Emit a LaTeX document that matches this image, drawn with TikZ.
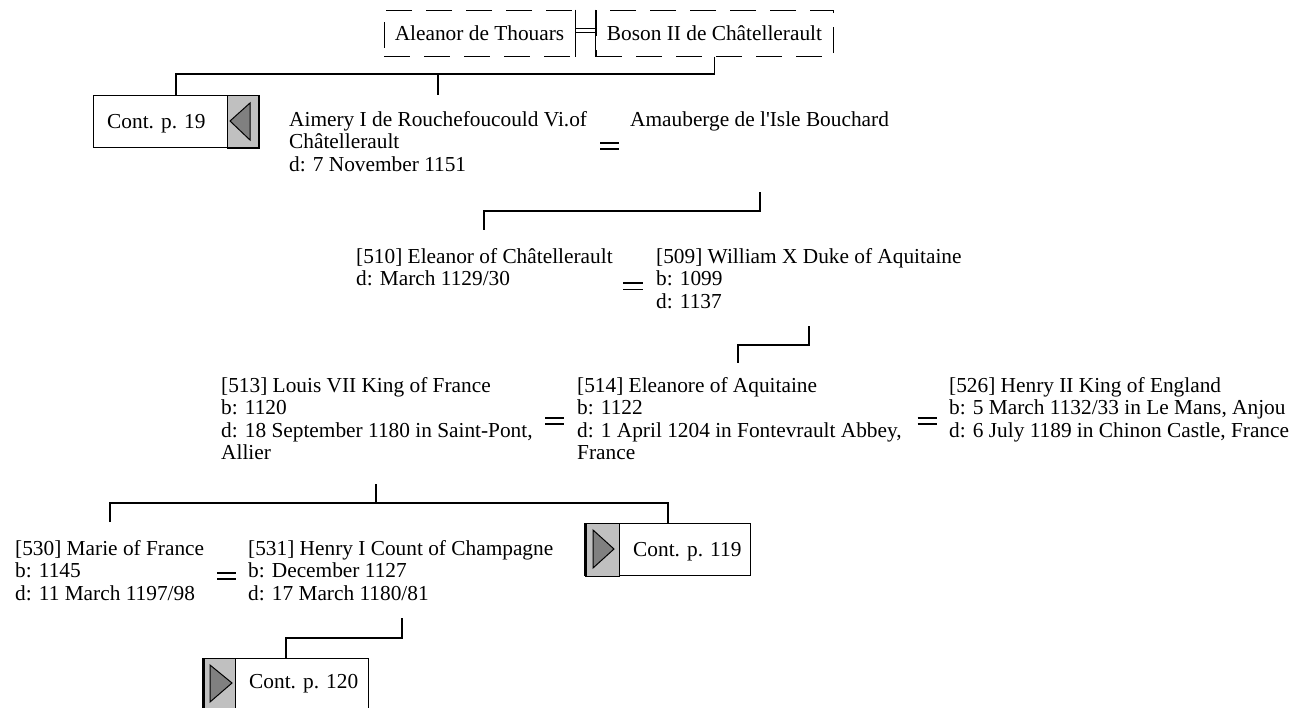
\documentclass[tikz,border=0pt]{standalone}
\usepackage{fontspec}
\setmainfont{Liberation Serif}[Ligatures=TeXOff]
\newcommand{\fs}{\fontsize{21.33}{22.5}\selectfont}
\newcommand{\ptext}[1]{\begin{tabular}[t]{@{}l@{}}#1\end{tabular}}
\definecolor{boxgrey}{HTML}{C0C0C0}
\definecolor{trigrey}{HTML}{808080}
\tikzset{
  conn/.style={line width=1.3pt},
  spouse/.style={line width=1.6pt},
  person/.style={anchor=base west, inner sep=0pt, font=\fs},
  dashbox/.style={draw, line width=1pt, dash pattern=on 26pt off 14pt, inner sep=0pt, font=\fs},
  contbox/.style={draw, fill=white, line width=1pt, anchor=north west, minimum width=165pt, minimum height=52pt, inner sep=0pt},
  greypart/.style={fill=boxgrey, draw, line width=1pt},
  arrowtri/.style={fill=trigrey, draw, line width=1pt, line join=miter},
  conttext/.style={anchor=base west, inner sep=0pt, font=\fs}
}
\begin{document}
\begin{tikzpicture}[x=1pt,y=-1pt]
\useasboundingbox (0,0) rectangle (1293,707);

% top couple (dashed boxes)
\node[dashbox, minimum width=191pt, minimum height=46pt] (aleanor) at (479.5,33) {Aleanor de Thouars};
\node[dashbox, minimum width=237pt, minimum height=46pt] (boson) at (714.5,33) {Boson II de Châtellerault};
\draw[line width=1pt] (aleanor.north east) -- (aleanor.south east);
\draw[line width=1pt] (boson.north west) -- (boson.south west);
\draw[line width=1pt] ([yshift=5pt]aleanor.east) -- ([yshift=5pt]boson.west);
\draw[line width=1pt] ([yshift=1pt]aleanor.east) -- ([yshift=1pt]boson.west);

% Cont. p. 19
\node[contbox] (cont19) at (93,95) {};
\draw[greypart] ([xshift=-32pt]cont19.north east) rectangle (cont19.south east);
\draw[line width=2.5pt] (cont19.north east) -- (cont19.south east);
\draw[line width=2pt] ([xshift=-32pt]cont19.south east) -- (cont19.south east);
\draw[arrowtri] (230,121) -- (250,103) -- (250,140) -- cycle;
\node[conttext] (cont19t) at (107,128) {Cont. p. 19};

% generation 1
\node[person] (aimery) at (289,126) {\ptext{Aimery I de Rouchefoucould Vi.of\\Châtellerault\\d: 7 November 1151}};
\node[person] (amauberge) at (630,126) {\ptext{Amauberge de l'Isle Bouchard}};
\coordinate (e1) at (609.5,146);
\draw[spouse] ([xshift=-9.5pt,yshift=3pt]e1) -- ([xshift=9.5pt,yshift=3pt]e1);
\draw[spouse] ([xshift=-9.5pt,yshift=-3pt]e1) -- ([xshift=9.5pt,yshift=-3pt]e1);

\coordinate (j0) at (714.5,74);
\coordinate (aimtop) at (438,95);
\draw[conn] (boson.south) -- (j0) -- (j0 -| cont19.north) -- (cont19.north);
\draw[conn] (aimtop |- j0) -- (aimtop);

% generation 2
\node[person] (eleanor) at (356,263) {\ptext{[510] Eleanor of Châtellerault\\d: March 1129/30}};
\node[person] (william) at (656,263) {\ptext{[509] William X Duke of Aquitaine\\b: 1099\\d: 1137}};
\coordinate (e2) at (633,286);
\draw[spouse] ([xshift=-10pt,yshift=3.3pt]e2) -- ([xshift=10pt,yshift=3.3pt]e2);
\draw[spouse] ([xshift=-10pt,yshift=-3.3pt]e2) -- ([xshift=10pt,yshift=-3.3pt]e2);

\coordinate (amaubot) at (760,192);
\coordinate (eleatop) at (484,230);
\draw[conn] (amaubot) -- (amaubot |- 0,211) -- (eleatop |- 0,211) -- (eleatop);

% generation 3
\node[person] (louis) at (221,392) {\ptext{[513] Louis VII King of France\\b: 1120\\d: 18 September 1180 in Saint-Pont,\\Allier}};
\node[person] (eleanore) at (577,392) {\ptext{[514] Eleanore of Aquitaine\\b: 1122\\d: 1 April 1204 in Fontevrault Abbey,\\France}};
\node[person] (henry2) at (949,392) {\ptext{[526] Henry II King of England\\b: 5 March 1132/33 in Le Mans, Anjou\\d: 6 July 1189 in Chinon Castle, France}};
\coordinate (e3) at (554.5,421);
\draw[spouse] ([xshift=-9.5pt,yshift=3pt]e3) -- ([xshift=9.5pt,yshift=3pt]e3);
\draw[spouse] ([xshift=-9.5pt,yshift=-3pt]e3) -- ([xshift=9.5pt,yshift=-3pt]e3);
\coordinate (e4) at (927,421);
\draw[spouse] ([xshift=-9.5pt,yshift=3pt]e4) -- ([xshift=9.5pt,yshift=3pt]e4);
\draw[spouse] ([xshift=-9.5pt,yshift=-3pt]e4) -- ([xshift=9.5pt,yshift=-3pt]e4);

\coordinate (willbot) at (809,326);
\coordinate (eletop) at (738,363);
\draw[conn] (willbot) -- (willbot |- 0,345) -- (eletop |- 0,345) -- (eletop);

% Cont. p. 119
\node[contbox] (cont119) at (585,523) {};
\draw[greypart] (cont119.north west) rectangle ([xshift=34pt]cont119.south west);
\draw[line width=3pt] (cont119.north west) -- (cont119.south west);
\draw[arrowtri] (593,530) -- (614,549) -- (593,568) -- cycle;
\node[conttext] (cont119t) at (633,556) {Cont. p. 119};

% generation 4
\node[person] (marie) at (15,555) {\ptext{[530] Marie of France\\b: 1145\\d: 11 March 1197/98}};
\node[person] (henry1) at (248,555) {\ptext{[531] Henry I Count of Champagne\\b: December 1127\\d: 17 March 1180/81}};
\coordinate (e5) at (226.5,576);
\draw[spouse] ([xshift=-9.5pt,yshift=3pt]e5) -- ([xshift=9.5pt,yshift=3pt]e5);
\draw[spouse] ([xshift=-9.5pt,yshift=-3pt]e5) -- ([xshift=9.5pt,yshift=-3pt]e5);

\coordinate (louisbot) at (376,484);
\coordinate (marietop) at (110,522);
\draw[conn] (louisbot) -- (louisbot |- 0,503);
\draw[conn] (marietop) -- (marietop |- 0,503) -- (cont119.north |- 0,503) -- (cont119.north);

% Cont. p. 120
\node[contbox] (cont120) at (203,658) {};
\draw[greypart] (cont120.north west) rectangle ([xshift=32pt]cont120.south west);
\draw[line width=3pt] (cont120.north west) -- (cont120.south west);
\draw[arrowtri] (210,665) -- (232,683) -- (210,702) -- cycle;
\node[conttext] (cont120t) at (249,688) {Cont. p. 120};

\coordinate (henbot) at (402,618);
\draw[conn] (henbot) -- (henbot |- 0,638) -- (cont120.north |- 0,638) -- (cont120.north);
\end{tikzpicture}
\end{document}
